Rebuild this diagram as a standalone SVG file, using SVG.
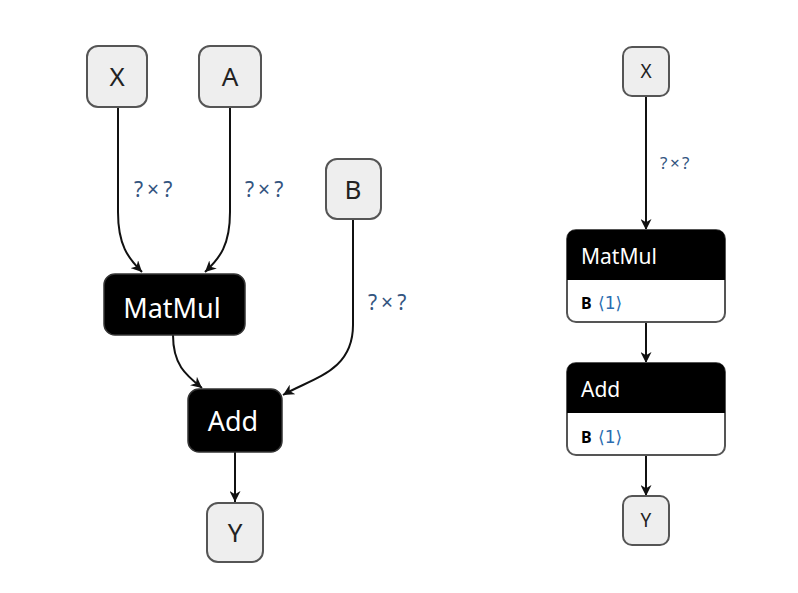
<svg xmlns="http://www.w3.org/2000/svg" width="798" height="593" viewBox="0 0 798 593">
<style>
.inp{fill:#eeeeee;stroke:#555;stroke-width:2}
.op{fill:#000;stroke:#333;stroke-width:1.5}
.t{font-family:"Noto Sans","Open Sans",sans-serif}
.lbl{font-family:"Noto Sans","Open Sans",sans-serif;fill:#34557f}
.br{font-family:"DejaVu Sans",sans-serif;fill:#2a6cb0}
.edge{fill:none;stroke:#111;stroke-width:2}
.box{fill:#fff;stroke:#555;stroke-width:2}
</style>
<defs>
<marker id="ah" viewBox="0 0 10 10" refX="10" refY="5" markerWidth="11" markerHeight="11" markerUnits="userSpaceOnUse" orient="auto">
<path d="M0,0 L10,5 L0,10 L3,5 z" fill="#111"/>
</marker>
</defs>
<rect width="798" height="593" fill="#fff"/>
<g id="connectors">
<path class="edge" marker-end="url(#ah)" d="M118,107 L118,212 C118,245 128,258 142,272"/>
<path class="edge" marker-end="url(#ah)" d="M230,107 L230,212 C230,245 220,258 205,272"/>
<path class="edge" marker-end="url(#ah)" d="M173,335 C173,365 186,375 202,388"/>
<path class="edge" marker-end="url(#ah)" d="M353,219 L353,325 C353,372 312,378 283,395"/>
<path class="edge" marker-end="url(#ah)" d="M235,452 L235,502"/>
<path class="edge" marker-end="url(#ah)" d="M646,96 L646,230"/>
<path class="edge" marker-end="url(#ah)" d="M646,322 L646,363"/>
<path class="edge" marker-end="url(#ah)" d="M646,455 L646,496"/>
<text class="lbl" x="134" y="197" font-size="21" letter-spacing="4">?×?</text>
<text class="lbl" x="245" y="197" font-size="21" letter-spacing="4">?×?</text>
<text class="lbl" x="368" y="310" font-size="21" letter-spacing="4">?×?</text>
<text class="lbl" x="660" y="169" font-size="17" letter-spacing="2.5">?×?</text>
</g>
<g id="X">
<rect class="inp" x="87" y="46" width="60" height="61" rx="11"/>
<text class="t" x="117" y="86" font-size="26" text-anchor="middle" fill="#222">X</text>
</g>
<g id="A">
<rect class="inp" x="199" y="46" width="62" height="61" rx="11"/>
<text class="t" x="230" y="86" font-size="26" text-anchor="middle" fill="#222">A</text>
</g>
<g id="B">
<rect class="inp" x="326" y="159" width="55" height="60" rx="11"/>
<text class="t" x="353" y="199" font-size="26" text-anchor="middle" fill="#222">B</text>
</g>
<g id="MatMul">
<rect class="op" x="104" y="274" width="141" height="61" rx="11"/>
<text class="t" x="172" y="318" font-size="27" text-anchor="middle" fill="#fff">MatMul</text>
</g>
<g id="Add">
<rect class="op" x="188" y="389" width="94" height="63" rx="11"/>
<text class="t" x="233" y="431" font-size="27" text-anchor="middle" fill="#fff">Add</text>
</g>
<g id="Y">
<rect class="inp" x="207" y="503" width="56" height="59" rx="11"/>
<text class="t" x="235" y="542" font-size="26" text-anchor="middle" fill="#222">Y</text>
</g>
<g id="X2">
<rect class="inp" x="623" y="47" width="46" height="49" rx="9"/>
<text class="t" x="646" y="78" font-size="19" text-anchor="middle" fill="#222">X</text>
</g>
<g id="MatMul2">
<rect class="box" x="567" y="230" width="158" height="92" rx="9"/>
<path d="M567,280 L567,239 Q567,230 576,230 L716,230 Q725,230 725,239 L725,280 Z" fill="#000"/>
<text class="t" x="581" y="264" font-size="21" fill="#fff">MatMul</text>
<text class="t" x="581" y="309" font-size="16" font-weight="bold" fill="#000">B</text>
<text class="br" x="598" y="309" font-size="17">⟨1⟩</text>
</g>
<g id="Add2">
<rect class="box" x="567" y="363" width="158" height="92" rx="9"/>
<path d="M567,413 L567,372 Q567,363 576,363 L716,363 Q725,363 725,372 L725,413 Z" fill="#000"/>
<text class="t" x="581" y="397" font-size="21" fill="#fff">Add</text>
<text class="t" x="581" y="443" font-size="16" font-weight="bold" fill="#000">B</text>
<text class="br" x="598" y="443" font-size="17">⟨1⟩</text>
</g>
<g id="Y2">
<rect class="inp" x="623" y="496" width="46" height="49" rx="9"/>
<text class="t" x="646" y="527" font-size="19" text-anchor="middle" fill="#222">Y</text>
</g>
</svg>
